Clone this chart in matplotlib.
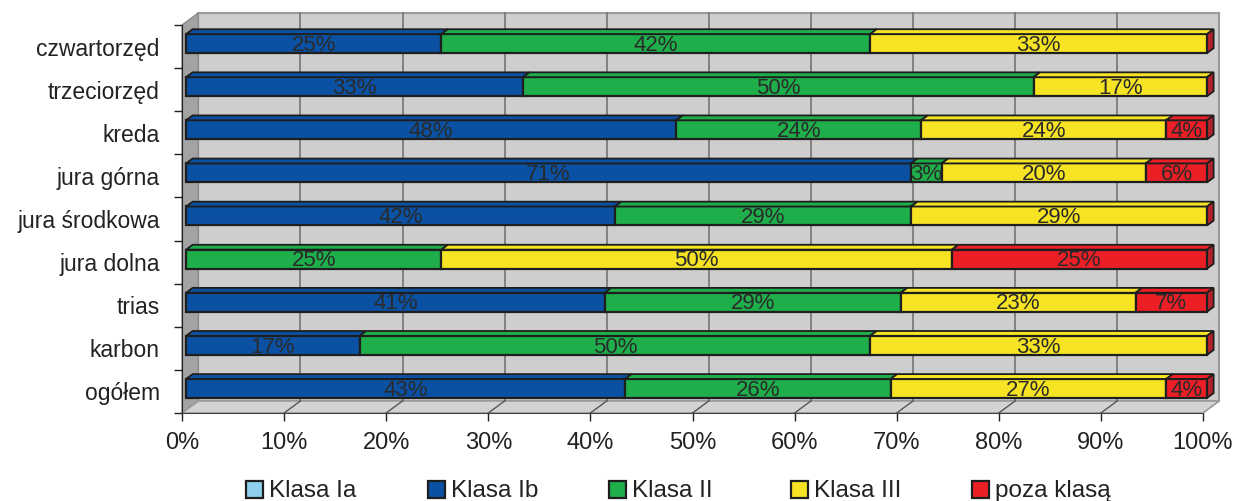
import matplotlib.pyplot as plt
from matplotlib.patches import Polygon, Rectangle

plt.rcParams['font.family'] = ['Liberation Sans', 'DejaVu Sans']

# strata, bottom to top
categories = ['ogółem', 'karbon', 'trias', 'jura dolna', 'jura środkowa',
              'jura górna', 'kreda', 'trzeciorzęd', 'czwartorzęd']
series = ['Klasa Ia', 'Klasa Ib', 'Klasa II', 'Klasa III', 'poza klasą']
klasa_ia = [0, 0, 0, 0, 0, 0, 0, 0, 0]
klasa_ib = [43, 17, 41, 0, 42, 71, 48, 33, 25]
klasa_ii = [26, 50, 29, 25, 29, 3, 24, 50, 42]
klasa_iii = [27, 33, 23, 50, 29, 20, 24, 17, 33]
poza_klasa = [4, 0, 7, 25, 0, 6, 4, 0, 0]
values = [klasa_ia, klasa_ib, klasa_ii, klasa_iii, poza_klasa]
xticks = [0, 10, 20, 30, 40, 50, 60, 70, 80, 90, 100]

colors = ['#8ecfee', '#0b51a3', '#1eaf4b', '#f6e424', '#ec1f26']
side_color = '#b0212b'
edge = '#1e1e1e'

# depth of the pseudo-3D box in data units
DX, DY = 1.6, 0.28
f_front, f_back = 0.25, 0.65
h = 0.44

fig = plt.figure(figsize=(12.37, 5.01), dpi=100)
ax = fig.add_axes([182 / 1237, 88 / 501, 1021 / 1237, 388 / 501])
ax.set_xlim(0, 100)
ax.set_ylim(-0.5, len(categories) - 0.5)
ax.patch.set_visible(False)
top = len(categories) - 0.5

# walls and floor
ax.add_patch(Rectangle((DX, -0.5 + DY), 100, len(categories), fc='#cecece',
                       ec='#9a9a9a', lw=1.5, clip_on=False, zorder=0))
ax.add_patch(Polygon([(0, -0.5), (DX, -0.5 + DY), (DX, top + DY), (0, top)],
                     closed=True, fc='#a3a3a3', ec='#8a8a8a', lw=1,
                     clip_on=False, zorder=0))
ax.add_patch(Polygon([(0, -0.5), (100, -0.5), (100 + DX, -0.5 + DY), (DX, -0.5 + DY)],
                     closed=True, fc='#d3d3d3', ec='#9a9a9a', lw=1.2,
                     clip_on=False, zorder=0))
for x in xticks[1:-1]:
    ax.plot([x + DX, x + DX], [-0.5 + DY, top + DY], color='#7a7a7a', lw=1.3,
            clip_on=False, zorder=1)
    ax.plot([x, x + DX], [-0.5, -0.5 + DY], color='#555555', lw=1,
            clip_on=False, zorder=1)

# stacked bars with top and side faces
fx, fy = f_front * DX, f_front * DY
bx, by = f_back * DX, f_back * DY
for i in range(len(categories)):
    left = 0
    y0 = i - h / 2 + fy
    for k, vals in enumerate(values):
        w = vals[i]
        if w > 0:
            x0 = left + fx
            ax.add_patch(Rectangle((x0, y0), w, h, fc=colors[k], ec=edge, lw=1.6,
                                   clip_on=False, zorder=3))
            ax.add_patch(Polygon([(x0, y0 + h), (x0 + w, y0 + h),
                                  (x0 + w + bx - fx, y0 + h + by - fy),
                                  (x0 + bx - fx, y0 + h + by - fy)],
                                 closed=True, fc=colors[k], ec=edge, lw=1.3,
                                 clip_on=False, zorder=3))
            ax.text(x0 + w / 2, y0 + h / 2 - 0.04, f'{w}%', ha='center', va='center',
                    fontsize=16, color='#2a2a2a', zorder=5)
        left += w
    # right end face
    xr = left + fx
    ax.add_patch(Polygon([(xr, y0), (xr + bx - fx, y0 + by - fy),
                          (xr + bx - fx, y0 + h + by - fy), (xr, y0 + h)],
                         closed=True, fc=side_color, ec=edge, lw=1.3,
                         clip_on=False, zorder=4))

# axes, ticks and labels
for s in ['top', 'right']:
    ax.spines[s].set_visible(False)
ax.spines['left'].set_color('#222222')
ax.spines['bottom'].set_color('#444444')
ax.spines['left'].set_zorder(2)
ax.set_xticks(xticks)
ax.set_xticklabels([f'{x}%' for x in xticks], fontsize=17, color='#222222')
ax.tick_params(axis='x', direction='out', length=6, width=1, color='#222222', pad=8)
ax.set_yticks(range(len(categories)))
ax.set_yticklabels(categories, fontsize=16.5, color='#222222')
ax.set_yticks([i - 0.5 for i in range(len(categories) + 1)], minor=True)
ax.tick_params(axis='y', which='major', length=0, pad=16)
ax.tick_params(axis='y', which='minor', direction='out', length=6, width=1,
               color='#222222')

# legend row
for k, name in enumerate(series):
    xl = (246 + k * 181.5) / 1237
    fig.patches.append(Rectangle((xl, 3.5 / 501), 17 / 1237, 17 / 501,
                                 transform=fig.transFigure, fc=colors[k],
                                 ec=edge, lw=1.6))
    fig.text(xl + 23 / 1237, 4 / 501, name, fontsize=17.5, color='#222222',
             ha='left', va='baseline')

fig.savefig('out.png', dpi=100)
